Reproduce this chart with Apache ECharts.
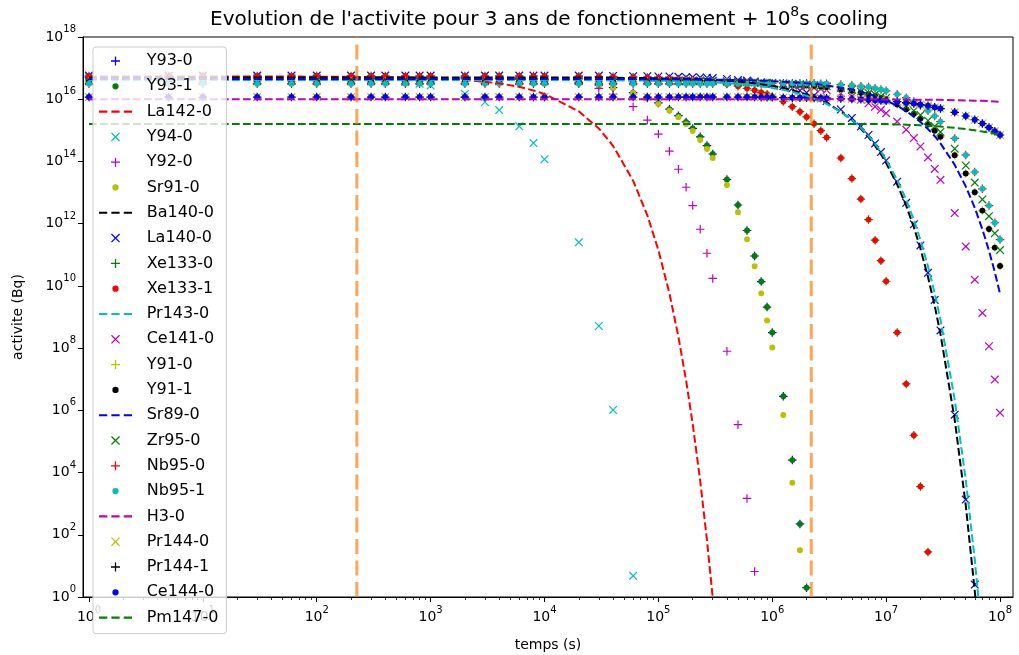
<!DOCTYPE html>
<html>
<head>
<meta charset="utf-8">
<script src="https://cdn.jsdelivr.net/npm/echarts@6/dist/echarts.min.js"></script>
<style>
  html, body { margin: 0; padding: 0; background: #fff; }
  #chart { width: 1019px; height: 655px; }
</style>
</head>
<body>
<div id="chart"></div>
<script>
// Cooling times (s)
const temps = [
  1, 5, 10, 30, 60, 100, 200, 300, 400, 600, 800,
  1e3, 2e3, 3e3, 4e3, 6e3, 8e3, 1e4, 2e4, 3e4, 4e4, 6e4,
  8e4, 1e5, 1.25e5, 1.5e5, 1.75e5, 2e5, 2.33e5, 2.67e5, 3e5, 4e5, 5e5,
  6e5, 7e5, 8e5, 9e5, 1e6, 1.25e6, 1.5e6, 1.75e6, 2e6, 2.33e6, 2.67e6,
  3e6, 4e6, 5e6, 6e6, 7e6, 8e6, 9e6, 1e7, 1.25e7, 1.5e7, 1.75e7,
  2e7, 2.33e7, 2.67e7, 3e7, 4e7, 5e7, 6e7, 7e7, 8e7, 9e7, 1e8
];

// Activities, given as powers of ten (log10 of Bq), one per cooling time.
// A list stops once the nuclide has fallen below 1 Bq.
const actY93 = [
  16.70, 16.70, 16.70, 16.70, 16.70, 16.70, 16.70, 16.70, 16.70, 16.70, 16.69,
  16.69, 16.68, 16.68, 16.67, 16.65, 16.63, 16.62, 16.54, 16.45, 16.37, 16.21,
  16.04, 15.88, 15.68, 15.47, 15.27, 15.06, 14.79, 14.51, 14.24, 13.42, 12.60,
  11.78, 10.96, 10.14, 9.32, 8.50, 6.45, 4.40, 2.35, 0.30
];
const actLa142 = [
  16.73, 16.73, 16.73, 16.73, 16.73, 16.72, 16.72, 16.71, 16.71, 16.70, 16.69,
  16.67, 16.62, 16.56, 16.51, 16.40, 16.28, 16.17, 15.61, 15.06, 14.50, 13.38,
  12.27, 11.15, 9.76, 8.36, 6.97, 5.57, 3.73, 1.83, -0.01, -5.59
];
const actY94 = [
  16.71, 16.71, 16.71, 16.70, 16.69, 16.68, 16.66, 16.63, 16.60, 16.55, 16.50,
  16.44, 16.17, 15.91, 15.65, 15.13, 14.59, 14.07, 11.40, 8.71, 6.01, 0.68
];
const actY92 = [
  16.70, 16.70, 16.70, 16.70, 16.70, 16.70, 16.70, 16.70, 16.70, 16.70, 16.70,
  16.70, 16.70, 16.70, 16.69, 16.68, 16.66, 16.64, 16.51, 16.35, 16.16, 15.76,
  15.33, 14.88, 14.33, 13.75, 13.17, 12.58, 11.82, 11.05, 10.24, 7.90, 5.54,
  3.17, 0.82
];
const actSr91 = [
  16.72, 16.72, 16.72, 16.72, 16.72, 16.72, 16.72, 16.72, 16.72, 16.71, 16.71,
  16.71, 16.70, 16.69, 16.69, 16.67, 16.65, 16.63, 16.55, 16.46, 16.37, 16.20,
  16.02, 15.85, 15.63, 15.42, 15.20, 14.98, 14.69, 14.40, 14.11, 13.24, 12.37,
  11.50, 10.63, 9.76, 8.89, 8.02, 5.85, 3.67, 1.50
];
const actBa140 = [
  16.70, 16.70, 16.70, 16.70, 16.70, 16.70, 16.70, 16.70, 16.70, 16.70, 16.70,
  16.70, 16.70, 16.70, 16.70, 16.70, 16.70, 16.70, 16.70, 16.70, 16.69, 16.68,
  16.68, 16.67, 16.67, 16.66, 16.65, 16.65, 16.64, 16.63, 16.62, 16.59, 16.56,
  16.54, 16.51, 16.48, 16.45, 16.43, 16.36, 16.29, 16.22, 16.15, 16.06, 15.97,
  15.88, 15.60, 15.33, 15.05, 14.78, 14.50, 14.23, 13.95, 13.26, 12.58, 11.89,
  11.20, 10.29, 9.36, 8.45, 5.70, 2.95, 0.20, -2.55
];
const actLa140 = [
  16.76, 16.76, 16.76, 16.76, 16.76, 16.76, 16.76, 16.76, 16.76, 16.76, 16.76,
  16.76, 16.76, 16.76, 16.76, 16.76, 16.76, 16.76, 16.76, 16.76, 16.75, 16.74,
  16.74, 16.73, 16.73, 16.72, 16.71, 16.71, 16.70, 16.69, 16.68, 16.65, 16.62,
  16.60, 16.57, 16.54, 16.51, 16.49, 16.42, 16.35, 16.28, 16.21, 16.12, 16.03,
  15.94, 15.67, 15.40, 15.12, 14.85, 14.58, 14.30, 14.03, 13.35, 12.67, 11.98,
  11.30, 10.42, 9.55, 8.57, 5.86, 3.13, 0.40
];
const actXe133 = [
  16.75, 16.75, 16.75, 16.75, 16.75, 16.75, 16.75, 16.75, 16.75, 16.75, 16.75,
  16.75, 16.75, 16.75, 16.75, 16.75, 16.75, 16.75, 16.74, 16.73, 16.72, 16.71,
  16.70, 16.68, 16.67, 16.65, 16.63, 16.62, 16.60, 16.57, 16.55, 16.49, 16.42,
  16.35, 16.29, 16.22, 16.16, 16.09, 15.93, 15.76, 15.60, 15.43, 15.21, 14.99,
  14.77, 14.11, 13.45, 12.79, 12.13, 11.47, 10.81, 10.15, 8.50, 6.85, 5.20,
  3.55, 1.45
];
const actPr143 = [
  16.62, 16.62, 16.62, 16.62, 16.62, 16.62, 16.62, 16.62, 16.62, 16.62, 16.62,
  16.62, 16.62, 16.62, 16.62, 16.62, 16.62, 16.62, 16.62, 16.61, 16.61, 16.60,
  16.60, 16.59, 16.59, 16.58, 16.58, 16.57, 16.56, 16.55, 16.54, 16.52, 16.49,
  16.47, 16.44, 16.41, 16.39, 16.36, 16.30, 16.23, 16.17, 16.11, 16.02, 15.93,
  15.85, 15.59, 15.34, 15.08, 14.82, 14.56, 14.31, 14.05, 13.41, 12.77, 12.12,
  11.48, 10.63, 9.76, 8.91, 6.34, 3.77, 1.20, -1.37
];
const actCe141 = [
  16.62, 16.62, 16.62, 16.62, 16.62, 16.62, 16.62, 16.62, 16.62, 16.62, 16.62,
  16.62, 16.62, 16.62, 16.62, 16.62, 16.62, 16.62, 16.62, 16.62, 16.62, 16.62,
  16.62, 16.61, 16.61, 16.60, 16.60, 16.60, 16.60, 16.59, 16.59, 16.58, 16.57,
  16.56, 16.55, 16.53, 16.52, 16.51, 16.49, 16.46, 16.43, 16.41, 16.37, 16.33,
  16.30, 16.19, 16.09, 15.98, 15.87, 15.76, 15.66, 15.55, 15.28, 15.02, 14.75,
  14.48, 14.13, 13.76, 13.41, 12.34, 11.27, 10.20, 9.13, 8.06, 6.99, 5.92
];
const actY91 = [
  16.57, 16.57, 16.57, 16.57, 16.57, 16.57, 16.57, 16.57, 16.57, 16.57, 16.57,
  16.57, 16.57, 16.57, 16.57, 16.57, 16.57, 16.57, 16.57, 16.57, 16.57, 16.57,
  16.57, 16.57, 16.57, 16.57, 16.57, 16.56, 16.56, 16.56, 16.55, 16.55, 16.54,
  16.53, 16.53, 16.52, 16.52, 16.51, 16.50, 16.48, 16.47, 16.45, 16.43, 16.41,
  16.39, 16.33, 16.27, 16.21, 16.15, 16.10, 16.04, 15.98, 15.83, 15.68, 15.53,
  15.38, 15.19, 14.99, 14.79, 14.20, 13.61, 13.01, 12.42, 11.83, 11.23, 10.64
];
const actSr89 = [
  16.65, 16.65, 16.65, 16.65, 16.65, 16.65, 16.65, 16.65, 16.65, 16.65, 16.65,
  16.65, 16.65, 16.65, 16.65, 16.65, 16.65, 16.65, 16.65, 16.65, 16.65, 16.65,
  16.64, 16.64, 16.64, 16.64, 16.64, 16.64, 16.63, 16.63, 16.63, 16.62, 16.62,
  16.61, 16.60, 16.59, 16.59, 16.58, 16.56, 16.55, 16.53, 16.51, 16.49, 16.47,
  16.44, 16.37, 16.31, 16.24, 16.17, 16.10, 16.03, 15.96, 15.79, 15.62, 15.44,
  15.27, 15.04, 14.81, 14.58, 13.89, 13.20, 12.51, 11.82, 11.13, 10.44, 9.75
];
const actZr95 = [
  16.58, 16.58, 16.58, 16.58, 16.58, 16.58, 16.58, 16.58, 16.58, 16.58, 16.58,
  16.58, 16.58, 16.58, 16.58, 16.58, 16.58, 16.58, 16.58, 16.58, 16.58, 16.58,
  16.58, 16.58, 16.58, 16.58, 16.58, 16.58, 16.58, 16.58, 16.58, 16.56, 16.55,
  16.55, 16.54, 16.54, 16.53, 16.53, 16.51, 16.50, 16.48, 16.47, 16.45, 16.44,
  16.42, 16.36, 16.31, 16.25, 16.20, 16.15, 16.09, 16.04, 15.90, 15.77, 15.63,
  15.49, 15.31, 15.13, 14.95, 14.41, 13.87, 13.32, 12.78, 12.24, 11.69, 11.15
];
const actNb95 = [
  16.50, 16.50, 16.50, 16.50, 16.50, 16.50, 16.50, 16.50, 16.50, 16.50, 16.50,
  16.50, 16.50, 16.50, 16.50, 16.50, 16.50, 16.50, 16.50, 16.50, 16.50, 16.50,
  16.50, 16.50, 16.50, 16.50, 16.50, 16.50, 16.50, 16.50, 16.50, 16.50, 16.50,
  16.50, 16.50, 16.50, 16.50, 16.51, 16.51, 16.51, 16.51, 16.51, 16.51, 16.50,
  16.50, 16.47, 16.45, 16.42, 16.39, 16.35, 16.31, 16.27, 16.16, 16.05, 15.93,
  15.80, 15.63, 15.46, 15.28, 14.74, 14.21, 13.66, 13.12, 12.58, 12.03, 11.49
];
const actH3 = [
  16.00, 16.00, 16.00, 16.00, 16.00, 16.00, 16.00, 16.00, 16.00, 16.00, 16.00,
  16.00, 16.00, 16.00, 16.00, 16.00, 16.00, 16.00, 16.00, 16.00, 16.00, 16.00,
  16.00, 16.00, 16.00, 16.00, 16.00, 16.00, 16.00, 16.00, 16.00, 16.00, 16.00,
  16.00, 16.00, 16.00, 16.00, 16.00, 16.00, 16.00, 16.00, 16.00, 16.00, 16.00,
  16.00, 16.00, 16.00, 16.00, 16.00, 16.00, 16.00, 15.99, 15.99, 15.99, 15.98,
  15.98, 15.98, 15.98, 15.98, 15.97, 15.96, 15.95, 15.95, 15.94, 15.93, 15.92
];
const actCe144 = [
  16.07, 16.07, 16.07, 16.07, 16.07, 16.07, 16.07, 16.07, 16.07, 16.07, 16.07,
  16.07, 16.07, 16.07, 16.07, 16.07, 16.07, 16.07, 16.07, 16.07, 16.07, 16.07,
  16.07, 16.07, 16.07, 16.07, 16.07, 16.07, 16.07, 16.07, 16.07, 16.07, 16.07,
  16.07, 16.07, 16.06, 16.06, 16.06, 16.05, 16.05, 16.05, 16.05, 16.04, 16.04,
  16.03, 16.02, 16.01, 16.00, 15.98, 15.97, 15.96, 15.95, 15.92, 15.89, 15.86,
  15.83, 15.79, 15.74, 15.70, 15.58, 15.46, 15.34, 15.22, 15.09, 14.97, 14.85
];
// Pr144 sits in equilibrium with its parent Ce144
const actPr144 = actCe144;
const actPm147 = [
  15.20, 15.20, 15.20, 15.20, 15.20, 15.20, 15.20, 15.20, 15.20, 15.20, 15.20,
  15.20, 15.20, 15.20, 15.20, 15.20, 15.20, 15.20, 15.20, 15.20, 15.20, 15.20,
  15.20, 15.20, 15.20, 15.20, 15.20, 15.20, 15.20, 15.20, 15.20, 15.20, 15.20,
  15.20, 15.20, 15.20, 15.20, 15.20, 15.20, 15.20, 15.20, 15.20, 15.20, 15.20,
  15.20, 15.20, 15.20, 15.20, 15.20, 15.20, 15.20, 15.20, 15.19, 15.18, 15.17,
  15.16, 15.15, 15.13, 15.12, 15.08, 15.04, 15.00, 14.96, 14.93, 14.89, 14.85
];

// Reference times marked with vertical lines (s)
const markTimes = [225, 2.2e6];

// Axis tick values (top decade nudged inside the axis range so it is kept)
const xMajor = [1, 10, 1e2, 1e3, 1e4, 1e5, 1e6, 1e7, 1e8];
const yMajor = [1, 1e2, 1e4, 1e6, 1e8, 1e10, 1e12, 1e14, 1e16, 0.9999999e18];
const xMinor = [];
for (let k = 0; k <= 7; k++) {
  for (let m = 2; m <= 9; m++) xMinor.push(m * Math.pow(10, k));
}

// Marker shapes in a 10x10 box
const SYM = {
  plus: 'path://M4.3,0H5.7V10H4.3Z M0,4.3H10V5.7H0Z',
  cross: 'path://M0,1L1,0L10,9L9,10Z M9,0L10,1L1,10L0,9Z',
  dot: 'path://M0,0h0.01v0.01h-0.01Z M9.99,9.99h0.01v0.01h-0.01Z M1.5,5A3.5,3.5,0,1,1,8.5,5A3.5,3.5,0,1,1,1.5,5Z',
  dash: 'path://M0,0H8V2H0Z M12,0H20V2H12Z M24,0H32V2H24Z'
};

// name, values, drawing kind, colour (legend order = drawing order)
const nuclides = [
  ['Y93-0', actY93, 'plus', '#0000ff'],
  ['Y93-1', actY93, 'dot', '#008000'],
  ['La142-0', actLa142, 'dash', '#ff0000'],
  ['Y94-0', actY94, 'cross', '#00bfbf'],
  ['Y92-0', actY92, 'plus', '#bf00bf'],
  ['Sr91-0', actSr91, 'dot', '#bfbf00'],
  ['Ba140-0', actBa140, 'dash', '#000000'],
  ['La140-0', actLa140, 'cross', '#0000ff'],
  ['Xe133-0', actXe133, 'plus', '#008000'],
  ['Xe133-1', actXe133, 'dot', '#ff0000'],
  ['Pr143-0', actPr143, 'dash', '#00bfbf'],
  ['Ce141-0', actCe141, 'cross', '#bf00bf'],
  ['Y91-0', actY91, 'plus', '#bfbf00'],
  ['Y91-1', actY91, 'dot', '#000000'],
  ['Sr89-0', actSr89, 'dash', '#0000ff'],
  ['Zr95-0', actZr95, 'cross', '#008000'],
  ['Nb95-0', actNb95, 'plus', '#ff0000'],
  ['Nb95-1', actNb95, 'dot', '#00bfbf'],
  ['H3-0', actH3, 'dash', '#bf00bf'],
  ['Pr144-0', actPr144, 'cross', '#bfbf00'],
  ['Pr144-1', actPr144, 'plus', '#000000'],
  ['Ce144-0', actCe144, 'dot', '#0000ff'],
  ['Pm147-0', actPm147, 'dash', '#008000']
];

const FONT = 'DejaVu Sans';

function points(values) {
  const out = [];
  values.forEach((e, i) => {
    if (e !== null && e !== undefined) out.push([temps[i], Math.pow(10, e)]);
  });
  return out;
}

const series = nuclides.map(([name, values, kind, color]) => {
  if (kind === 'dash') {
    return {
      name, type: 'line', data: points(values),
      symbol: 'none', showSymbol: false, clip: true, silent: true,
      itemStyle: { color },
      lineStyle: { color, width: 2, type: [7.7, 3.3] }
    };
  }
  return {
    name, type: 'scatter', data: points(values),
    symbol: SYM[kind], symbolSize: 8.5, clip: true, silent: true,
    itemStyle: { color, opacity: 1, borderWidth: 0 }
  };
});

// vertical markers, drawn on top
markTimes.forEach(t => {
  series.push({
    type: 'line', data: [[t, 1], [t, 1e18]],
    symbol: 'none', showSymbol: false, silent: true, clip: true,
    lineStyle: { color: 'rgba(255,127,14,0.7)', width: 3, type: [15, 6.5] }
  });
});

const rich = {
  b: { fontFamily: FONT, fontSize: 14, color: '#000' },
  s: { fontFamily: FONT, fontSize: 10, color: '#000', padding: [0, 0, 15, 0] }
};
const powLabel = v => '{b|10}{s|' + Math.round(Math.log10(v)) + '}';

const chart = echarts.init(document.getElementById('chart'), null, { renderer: 'canvas' });
chart.setOption({
  animation: false,
  backgroundColor: '#ffffff',
  textStyle: { fontFamily: FONT },
  title: {
    text: "Evolution de l'activite pour 3 ans de fonctionnement + 10{s|8}s cooling",
    left: 205, top: 0,
    padding: [5, 5, 5, 5],
    textStyle: {
      fontFamily: FONT, fontSize: 20, fontWeight: 'normal', color: '#000',
      rich: { s: { fontFamily: FONT, fontSize: 14, color: '#000', padding: [0, 0, 16, 0] } }
    }
  },
  grid: {
    left: 83, top: 37, right: 6, bottom: 58,
    show: true, borderColor: '#000', borderWidth: 1, backgroundColor: 'transparent',
    containLabel: false, outerBoundsMode: 'none'
  },
  legend: {
    data: nuclides.map(([name, , kind]) => ({ name, icon: SYM[kind], itemStyle: { borderWidth: 0 } })),
    orient: 'vertical', left: 93, top: 47,
    padding: [6, 8, 8, 6],
    itemWidth: 33, itemHeight: 9, itemGap: 9.3,
    backgroundColor: 'rgba(255,255,255,0.8)',
    borderColor: '#cccccc', borderWidth: 1, borderRadius: 3,
    selectedMode: false, z: 10,
    textStyle: { fontFamily: FONT, fontSize: 16, lineHeight: 16, color: '#000', padding: [0, 0, 0, 9.7] }
  },
  xAxis: [{
    type: 'log', logBase: 10, min: 0.886, max: 1.3e8, position: 'bottom',
    name: 'temps (s)', nameLocation: 'middle', nameGap: 41,
    nameTextStyle: { fontFamily: FONT, fontSize: 14, color: '#000' },
    axisLine: { show: true, lineStyle: { color: '#000', width: 1 } },
    axisTick: { show: true, inside: false, length: 5, customValues: xMajor, lineStyle: { color: '#000', width: 1 } },
    axisLabel: { show: true, customValues: xMajor, formatter: powLabel, margin: 8, rich, color: '#000' },
    minorTick: { show: false }, splitLine: { show: false }
  }, {
    type: 'log', logBase: 10, min: 0.886, max: 1.3e8, position: 'bottom', gridIndex: 0,
    axisLine: { show: false },
    axisTick: { show: true, inside: false, length: 3, customValues: xMinor, lineStyle: { color: '#000', width: 0.8 } },
    axisLabel: { show: false }, splitLine: { show: false }
  }],
  yAxis: {
    type: 'log', logBase: 10, min: 1, max: 1e18,
    name: 'activite (Bq)', nameLocation: 'middle', nameGap: 58, nameRotate: 90,
    nameTextStyle: { fontFamily: FONT, fontSize: 14, color: '#000' },
    axisLine: { show: true, lineStyle: { color: '#000', width: 1 } },
    axisTick: { show: true, inside: false, length: 5, customValues: yMajor, lineStyle: { color: '#000', width: 1 } },
    axisLabel: { show: true, customValues: yMajor, formatter: powLabel, margin: 7, rich, color: '#000' },
    minorTick: { show: false }, splitLine: { show: false }
  },
  series
});
</script>
</body>
</html>
